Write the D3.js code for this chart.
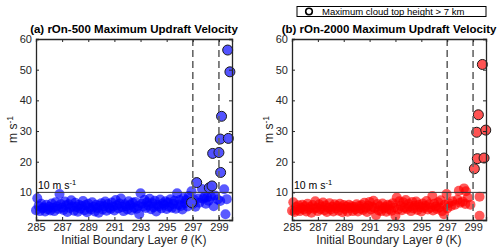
<!DOCTYPE html>
<html lang="en">
<head>
<meta charset="UTF-8">
<title>Maximum updraft velocity</title>
<script src="https://cdn.jsdelivr.net/npm/d3@7"></script>
<style>
    body{ margin:0; background:#fff; }
    svg{ font-family: "Liberation Sans", Arial, sans-serif; }
    .tick text{ fill:#262626; font-size:11px; }
    .title{ font-weight:bold; font-size:11.5px; fill:#000; }
</style>
</head>
<body>
<svg id="chart" width="500" height="250"></svg>
<script>
// panel (a) rOn-500, cloud top below 7 km
const thetaA = [285.0,285.1,285.2,285.3,285.4,285.5,285.6,285.7,285.8,285.9,286.0,286.1,286.2,286.3,286.4,286.5,286.6,286.7,286.8,286.9,
  287.0,287.1,287.2,287.3,287.4,287.5,287.6,287.7,287.8,287.9,288.0,288.1,288.2,288.3,288.4,288.5,288.6,288.7,288.8,288.9,
  289.0,289.1,289.2,289.3,289.4,289.5,289.6,289.7,289.8,289.9,290.0,290.1,290.2,290.3,290.4,290.5,290.6,290.7,290.8,290.9,
  291.0,291.1,291.2,291.3,291.4,291.5,291.6,291.7,291.8,291.9,292.0,292.1,292.2,292.3,292.4,292.5,292.6,292.7,292.8,292.9,
  293.0,293.1,293.2,293.3,293.4,293.5,293.6,293.7,293.8,293.9,294.0,294.1,294.2,294.3,294.4,294.5,294.6,294.7,294.8,294.9,
  295.0,295.1,295.2,295.3,295.4,295.5,295.6,295.7,295.8,295.9,296.0,296.1,296.2,296.3,296.4,296.5,296.6,296.7,296.9,297.0,
  297.1,297.2,297.4,297.5,297.7,297.8,297.9,298.0,298.1,298.2,298.4,298.6,298.7,298.9,299.1,299.4,299.5,299.6];
const wA = [4.2,8.1,5.6,3.9,6.3,4.8,5.1,3.8,6.0,4.5,5.3,4.1,6.4,5.0,3.9,6.8,5.5,4.6,9.5,6.2,
  5.0,4.3,7.0,5.8,3.6,6.1,4.9,7.4,5.4,4.0,6.6,5.2,3.7,6.0,4.7,5.6,7.2,4.2,5.9,3.5,
  6.3,5.0,4.4,6.8,5.3,3.8,6.0,4.9,3.4,5.7,6.5,4.4,5.5,7.0,4.0,6.2,5.1,4.6,6.7,5.4,
  4.1,7.5,5.8,4.8,6.4,8.0,5.2,3.9,6.1,5.5,4.4,7.1,5.9,4.2,6.6,5.0,6.9,4.7,5.6,2.9,
  9.7,6.3,5.4,7.6,4.9,6.8,5.7,7.9,4.5,6.5,5.2,7.3,3.8,6.0,5.4,7.7,4.8,6.4,5.9,7.1,
  4.6,6.7,5.3,7.8,5.0,6.2,7.3,4.7,9.7,6.0,7.5,5.6,4.4,8.2,6.5,7.5,5.4,8.8,10.4,6.2,
  7.6,5.3,8.0,6.6,11.1,7.9,8.5,6.3,8.4,7.3,8.6,5.5,9.0,7.7,7.2,11.0,2.9,7.8];
// panel (a), cloud top above 7 km
const thetaDeepA = [296.9,297.3,298.26,298.47,299.13,298.52,299.0,299.1,299.72,299.2,299.84,299.67];
const wDeepA = [6.7,13.2,11.5,12.1,16.5,22.7,23.0,27.4,27.6,34.8,49.3,56.4];

// panel (b) rOn-2000, cloud top below 7 km
const thetaB = [285.0,285.1,285.2,285.3,285.4,285.5,285.6,285.7,285.8,285.9,286.0,286.1,286.2,286.3,286.4,286.5,286.6,286.7,286.8,286.9,
  287.0,287.1,287.2,287.3,287.4,287.5,287.6,287.7,287.8,287.9,288.0,288.1,288.2,288.3,288.4,288.5,288.6,288.7,288.8,288.9,
  289.0,289.1,289.2,289.3,289.4,289.5,289.6,289.7,289.8,289.9,290.0,290.1,290.2,290.3,290.4,290.5,290.6,290.7,290.8,290.9,
  291.0,291.1,291.2,291.3,291.4,291.5,291.6,291.7,291.8,291.9,292.0,292.1,292.2,292.3,292.4,292.5,292.6,292.7,292.8,292.9,
  293.0,293.1,293.2,293.3,293.4,293.5,293.6,293.7,293.8,293.9,294.0,294.1,294.2,294.3,294.4,294.5,294.6,294.7,294.8,294.9,
  295.0,295.1,295.2,295.3,295.4,295.5,295.6,295.7,295.85,295.9,296.0,296.1,296.2,296.3,296.4,296.5,296.6,296.75,296.8,296.95,
  297.0,297.1,297.3,297.4,297.6,297.8,297.9,298.0,298.2,298.3,298.4,298.45,298.6,298.8,299.5,299.5];
const wB = [4.0,6.8,3.6,5.2,4.3,5.8,3.9,4.9,6.0,4.4,5.5,3.8,6.3,4.6,5.2,3.4,5.9,4.7,7.1,5.0,
  3.9,6.1,4.5,5.4,6.7,4.2,5.7,3.6,5.0,6.5,4.4,5.3,3.8,6.1,4.8,5.6,4.0,6.3,5.1,3.5,
  5.9,4.6,5.4,3.7,6.0,4.9,5.5,3.9,5.2,4.5,6.1,3.8,5.6,4.7,5.9,4.3,6.6,5.0,3.6,5.7,
  6.9,4.4,5.3,7.3,4.9,2.6,6.2,4.1,5.5,3.9,6.4,4.8,5.2,3.7,6.0,4.5,5.8,4.0,6.5,5.1,
  2.4,8.3,4.4,7.1,5.6,4.2,6.8,5.0,7.5,4.6,6.2,5.3,3.9,6.9,4.8,5.7,7.0,4.3,6.0,5.2,
  3.8,6.4,4.9,5.6,7.2,4.4,6.1,5.0,8.8,4.1,6.3,5.4,4.6,6.8,5.1,7.4,3.9,2.9,6.0,9.5,
  4.8,6.5,5.6,7.1,6.0,7.6,10.5,6.6,7.0,11.3,6.2,10.4,8.3,6.0,8.6,2.4];
// panel (b), cloud top above 7 km
const thetaDeepB = [299.1,299.33,299.85,299.28,299.98,299.41,299.72];
const wDeepB = [17.7,21.0,21.2,29.6,30.3,35.3,51.7];

const xTicks = [285,287,289,291,293,295,297,299];
const yTicks = [10,20,30,40,50,60];
const dashedAt = [297,299];
const threshold = 10;

const panels = [
    {left:36, right:232, title:"(a) rOn-500 Maximum Updraft Velocity",
     theta:thetaA, w:wA, thetaDeep:thetaDeepA, wDeep:wDeepA,
     fill:"#0000ff", deepFill:"#4a4aff"},
    {left:292, right:486, title:"(b) rOn-2000 Maximum Updraft Velocity",
     theta:thetaB, w:wB, thetaDeep:thetaDeepB, wDeep:wDeepB,
     fill:"#ff0000", deepFill:"#ff4a4a"}
];
const plotTop = 39, plotBottom = 220;

const svg = d3.select("#chart");

panels.forEach(function(p){
    let x = d3.scaleLinear().domain([285,300]).range([p.left,p.right]);
    let y = d3.scaleLinear().domain([1,60]).range([plotBottom,plotTop]);
    let g = svg.append("g");

    // scatter, below 7 km
    g.append("g").selectAll("circle")
        .data(d3.range(p.theta.length))
        .enter().append("circle")
        .attr("cx", i => x(p.theta[i]))
        .attr("cy", i => y(p.w[i]))
        .attr("r", 5)
        .attr("fill", p.fill)
        .attr("fill-opacity", 0.65);

    // scatter, above 7 km
    g.append("g").selectAll("circle")
        .data(d3.range(p.thetaDeep.length))
        .enter().append("circle")
        .attr("cx", i => x(p.thetaDeep[i]))
        .attr("cy", i => y(p.wDeep[i]))
        .attr("r", 5)
        .attr("fill", p.deepFill)
        .attr("fill-opacity", 0.95)
        .attr("stroke", "#1a1a1a")
        .attr("stroke-width", 1);

    // dashed theta lines
    g.selectAll(".dash").data(dashedAt).enter().append("line")
        .attr("x1", d => x(d)).attr("x2", d => x(d))
        .attr("y1", plotTop).attr("y2", plotBottom)
        .attr("stroke", "#666").attr("stroke-width", 1.6)
        .attr("stroke-dasharray", "7,4");

    // 10 m/s line
    g.append("line")
        .attr("x1", p.left).attr("x2", p.right)
        .attr("y1", y(threshold)).attr("y2", y(threshold))
        .attr("stroke", "#333").attr("stroke-width", 1);
    let lab = g.append("text")
        .attr("x", p.left + 2).attr("y", y(threshold) - 3)
        .attr("font-size", 10.5).attr("fill", "#000")
        .text("10 m s");
    lab.append("tspan").attr("font-size", 7.5).attr("dy", -4).text("-1");

    // axes, ticks pointing inward, box all round
    let xa = g.append("g").attr("transform", `translate(0,${plotBottom})`)
        .call(d3.axisBottom(x).tickValues(xTicks).tickSize(-3).tickPadding(3).tickFormat(d3.format("d")));
    let xt = g.append("g").attr("transform", `translate(0,${plotTop})`)
        .call(d3.axisTop(x).tickValues(xTicks).tickSize(-3).tickFormat(""));
    let ya = g.append("g").attr("transform", `translate(${p.left},0)`)
        .call(d3.axisLeft(y).tickValues(yTicks).tickSize(-3).tickPadding(4));
    let yr = g.append("g").attr("transform", `translate(${p.right},0)`)
        .call(d3.axisRight(y).tickValues(yTicks).tickSize(-3).tickFormat(""));
    [xa, xt, ya, yr].forEach(a => {
        a.select(".domain").attr("stroke", "#262626").attr("stroke-width", 1.3);
        a.selectAll(".tick line").attr("stroke", "#262626");
    });

    g.append("text").attr("class", "title")
        .attr("x", (p.left + p.right) / 2).attr("y", 32.5)
        .attr("text-anchor", "middle").text(p.title);

    let xl = g.append("text")
        .attr("x", (p.left + p.right) / 2).attr("y", 244)
        .attr("text-anchor", "middle").attr("font-size", 12).attr("fill", "#262626")
        .text("Initial Boundary Layer ");
    xl.append("tspan").attr("font-style", "italic").text("θ");
    xl.append("tspan").text(" (K)");

    let yl = g.append("text")
        .attr("transform", `translate(${p.left - 19},${(plotTop + plotBottom) / 2}) rotate(-90)`)
        .attr("text-anchor", "middle").attr("font-size", 12).attr("fill", "#262626")
        .text("m s");
    yl.append("tspan").attr("font-size", 8.5).attr("dy", -4).text("-1");
});

// legend
let leg = svg.append("g");
leg.append("rect").attr("x", 297).attr("y", 6.5).attr("width", 189).attr("height", 10)
    .attr("fill", "#fff").attr("stroke", "#000").attr("stroke-width", 1);
leg.append("circle").attr("cx", 309).attr("cy", 11.5).attr("r", 3.3)
    .attr("fill", "#fff").attr("stroke", "#000").attr("stroke-width", 1.6);
leg.append("text").attr("x", 322).attr("y", 15).attr("font-size", 9.5).attr("fill", "#000")
    .text("Maximum cloud top height > 7 km");
</script>
</body>
</html>
